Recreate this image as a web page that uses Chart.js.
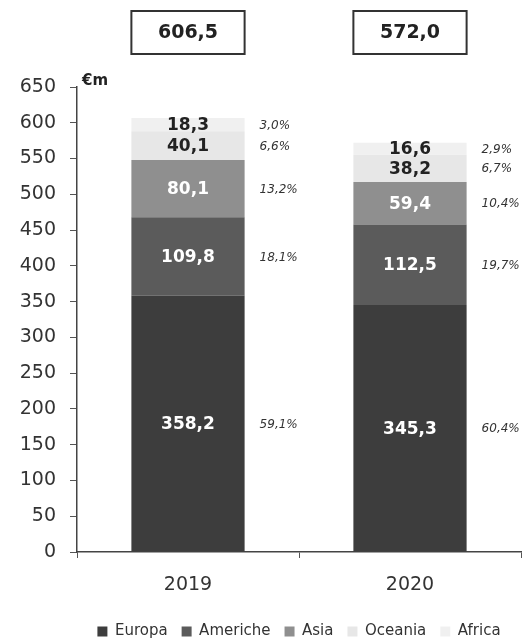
<!DOCTYPE html>
<html>
<head>
<meta charset="utf-8">
<script src="https://cdn.jsdelivr.net/npm/chart.js@4.4.0/dist/chart.umd.min.js"></script>
<style>
  html, body { margin: 0; padding: 0; background: #fff; }
  #wrap { width: 522px; height: 641px; position: relative; }
</style>
</head>
<body>
<div id="wrap"><canvas id="ricavi"></canvas></div>
<script>
// Ricavi per area geografica (€m)
const years = ['2019', '2020'];
const europa = [358.2, 345.3];
const americhe = [109.8, 112.5];
const asia = [80.1, 59.4];
const oceania = [40.1, 38.2];
const africa = [18.3, 16.6];
const totals = [606.5, 572.0];

// quote percentuali sul totale
const pctEuropa = [59.1, 60.4];
const pctAmeriche = [18.1, 19.7];
const pctAsia = [13.2, 10.4];
const pctOceania = [6.6, 6.7];
const pctAfrica = [3.0, 2.9];

const yTicks = [0, 50, 100, 150, 200, 250, 300, 350, 400, 450, 500, 550, 600, 650];

const FONT = "'DejaVu Sans', sans-serif";
const fmt = v => v.toFixed(1).replace('.', ',');

const series = [
    { label: 'Europa', data: europa, pct: pctEuropa, color: '#3d3d3d', text: '#fff' },
    { label: 'Americhe', data: americhe, pct: pctAmeriche, color: '#5b5b5b', text: '#fff' },
    { label: 'Asia', data: asia, pct: pctAsia, color: '#8f8f8f', text: '#fff' },
    { label: 'Oceania', data: oceania, pct: pctOceania, color: '#e7e7e7', text: '#222' },
    { label: 'Africa', data: africa, pct: pctAfrica, color: '#f0f0f0', text: '#222' }
];

// etichette dentro e accanto alle barre, box dei totali, unità
const labelsPlugin = {
    id: 'barLabels',
    afterDatasetsDraw(chart) {
        const ctx = chart.ctx;
        ctx.save();
        ctx.textBaseline = 'middle';
        series.forEach((s, i) => {
            const meta = chart.getDatasetMeta(i);
            meta.data.forEach((bar, j) => {
                const yc = (bar.y + bar.base) / 2;
                ctx.fillStyle = s.text;
                ctx.textAlign = 'center';
                ctx.font = 'bold 17px ' + FONT;
                ctx.fillText(fmt(s.data[j]), bar.x, yc + 1);
                ctx.fillStyle = '#333';
                ctx.textAlign = 'left';
                ctx.font = 'italic 12px ' + FONT;
                ctx.fillText(fmt(s.pct[j]) + '%', bar.x + bar.width / 2 + 15, yc + 1);
            });
        });

        // totali in alto
        const first = chart.getDatasetMeta(0);
        first.data.forEach((bar, j) => {
            const left = bar.x - bar.width / 2;
            ctx.strokeStyle = '#333';
            ctx.lineWidth = 2;
            ctx.strokeRect(left, 11, bar.width, 43);
            ctx.fillStyle = '#222';
            ctx.textAlign = 'center';
            ctx.font = 'bold 19px ' + FONT;
            ctx.fillText(fmt(totals[j]), bar.x, 33);
        });

        ctx.fillStyle = '#222';
        ctx.textAlign = 'left';
        ctx.font = 'bold 15px ' + FONT;
        ctx.fillText('€m', chart.chartArea.left + 5, chart.chartArea.top - 6);
        ctx.restore();
    }
};

new Chart(document.getElementById('ricavi'), {
    type: 'bar',
    data: {
        labels: years,
        datasets: series.map(s => ({
            label: s.label,
            data: s.data,
            backgroundColor: s.color,
            borderWidth: 0,
            categoryPercentage: 1,
            barPercentage: 0.51
        }))
    },
    options: {
        responsive: true,
        maintainAspectRatio: false,
        animation: false,
        layout: { padding: { top: 87, right: 1, left: 0, bottom: -8 } },
        plugins: {
            legend: {
                position: 'bottom',
                fullSize: false, // legenda centrata sull'area del grafico
                labels: {
                    boxWidth: 10,
                    boxHeight: 10,
                    padding: 14,
                    color: '#333',
                    font: { family: FONT, size: 15 }
                }
            },
            tooltip: { enabled: false }
        },
        scales: {
            x: {
                stacked: true,
                grid: { drawOnChartArea: false, tickLength: 6, color: '#555', offset: true },
                border: { color: '#444', width: 1.5 },
                ticks: { color: '#333', padding: 16, font: { family: FONT, size: 19 } },
                afterFit: s => { s.height = 58; }
            },
            y: {
                stacked: true,
                min: 0,
                max: 650,
                afterBuildTicks: s => { s.ticks = yTicks.map(v => ({ value: v })); },
                grid: { drawOnChartArea: false, tickLength: 7, color: '#555' },
                border: { color: '#444', width: 1.5 },
                ticks: { color: '#333', padding: 14, font: { family: FONT, size: 19 } },
                afterFit: s => { s.width = 77; }
            }
        }
    },
    plugins: [labelsPlugin]
});
</script>
</body>
</html>
